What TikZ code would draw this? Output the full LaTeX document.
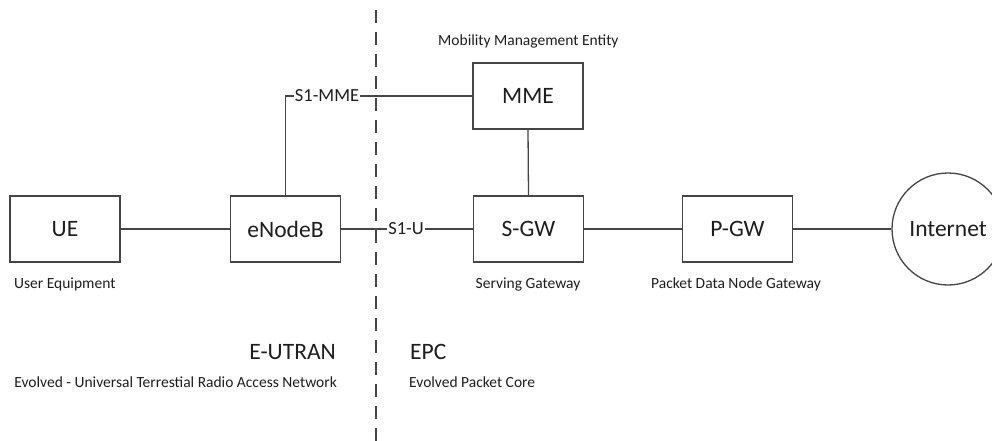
\documentclass[tikz,border=0pt]{standalone}
\usepackage{fontspec}
\setmainfont{Carlito}
\definecolor{linec}{RGB}{70,70,70}
\definecolor{textc}{RGB}{30,30,30}
\tikzset{
  box/.style={draw=linec, line width=1.3pt, minimum width=110pt, minimum height=66pt, inner sep=0pt, font=\fontsize{23.5}{28}\selectfont, text=textc},
  conn/.style={draw=linec, line width=1.3pt},
  small/.style={inner sep=0pt, font=\fontsize{15.5}{18}\selectfont, text=textc},
  mid/.style={inner sep=1pt, fill=white, font=\fontsize{18.5}{22}\selectfont, text=textc},
  big/.style={inner sep=0pt, font=\fontsize{23.5}{28}\selectfont, text=textc},
}
\begin{document}
\begin{tikzpicture}[x=1pt,y=-1pt]
\useasboundingbox (0,0) rectangle (992,441);
\clip (0,0) rectangle (992,441);
\fill[white] (0,0) rectangle (992,441);
% divider
\coordinate (dtop) at (376,10);
\coordinate (dbot) at (376,441);
\draw[linec, line width=1.2pt, dash pattern=on 13pt off 9pt] (dtop) -- (dbot);
% nodes
\node[box] (ue) at (65,229) {UE};
\node[box] (enb) at (285.5,229) {eNodeB};
\node[box] (mme) at (528,96) {MME};
\node[box] (sgw) at (528.5,229) {S-GW};
\node[box] (pgw) at (737.5,229) {P-GW};
\node[draw=linec, line width=1.3pt, circle, minimum size=112pt, inner sep=0pt, font=\fontsize{23.5}{28}\selectfont, text=textc] (inet) at (948,229) {Internet};
% connectors
\draw[conn] (ue.east) -- (enb.west);
\draw[conn] (enb.north) |- (mme.west);
\draw[conn] (enb.east) -- (sgw.west);
\draw[conn] (mme.south) -- (sgw.north);
\draw[conn] (sgw.east) -- (pgw.west);
\draw[conn] (pgw.east) -- (inet.west);
% connector labels
\node[mid] (s1mme) at (327,96) {S1-MME};
\node[mid] (s1u) at (406,229) {S1-U};
% descriptions
\node[small, anchor=west] (mmel) at (438,41) {Mobility Management Entity};
\node[small, anchor=west] (uel) at (14,284) {User Equipment};
\node[small] (sgwl) at (528,284) {Serving Gateway};
\node[small] (pgwl) at (736,284) {Packet Data Node Gateway};
\node[big, anchor=east] (eutran) at (336,352) {E-UTRAN};
\node[small, anchor=east] (eutranl) at (337,382) {Evolved - Universal Terrestial Radio Access Network};
\node[big, anchor=west] (epc) at (410,352) {EPC};
\node[small, anchor=west] (epcl) at (409,382) {Evolved Packet Core};
\end{tikzpicture}
\end{document}
